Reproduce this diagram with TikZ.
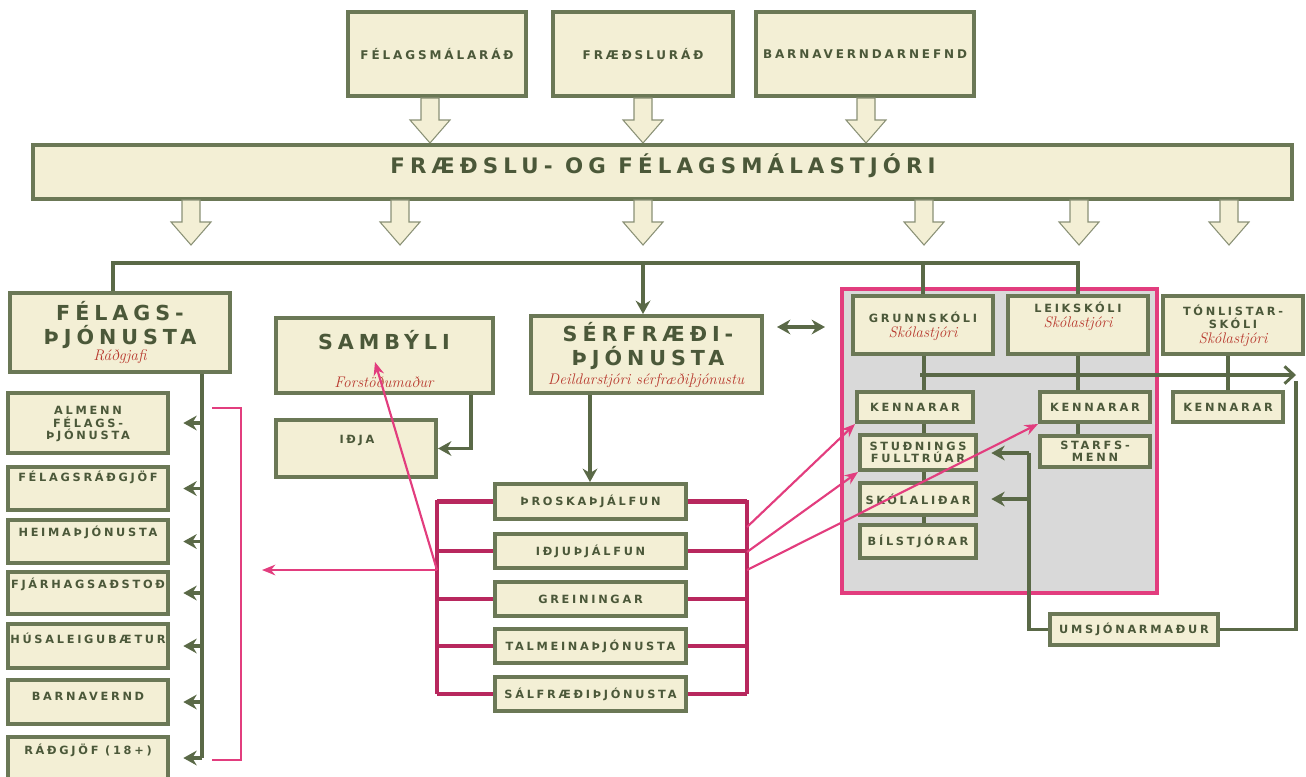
\documentclass[tikz,border=0pt]{standalone}
\usepackage{fontspec}
\newfontfamily\hfs[LetterSpace=24]{DejaVu Sans}
\usetikzlibrary{arrows.meta,fit,shadows}
\definecolor{cream}{HTML}{F3EFD5}
\definecolor{boxc}{HTML}{6B7856}
\definecolor{txt}{HTML}{4B5839}
\definecolor{lineC}{HTML}{5A6947}
\definecolor{redt}{HTML}{B8392E}
\definecolor{pinkA}{HTML}{E23D7E}
\definecolor{crim}{HTML}{B8285E}
\definecolor{greyR}{HTML}{D9D9D9}
\definecolor{harrow}{HTML}{8A9176}
\pgfdeclarelayer{back}\pgfdeclarelayer{bg}\pgfsetlayers{back,bg,main}
\tikzset{
  bx/.style={draw=boxc, line width=3pt, fill=cream, inner sep=0pt,
    drop shadow={shadow xshift=1.2pt, shadow yshift=-1.2pt, opacity=0.25}},
  ts/.style={font=\hfs\bfseries\fontsize{8.5}{9.4}\selectfont, text=txt, align=center, inner sep=0pt},
  tm/.style={font=\hfs\bfseries\fontsize{9}{10.5}\selectfont, text=txt, align=center, inner sep=0pt},
  tl/.style={font=\hfs\bfseries\fontsize{15.5}{18}\selectfont, text=txt, align=center, inner sep=0pt},
  txl/.style={font=\hfs\bfseries\fontsize{16}{18}\selectfont, text=txt, align=center, inner sep=0pt},
  rd/.style={font=\itshape\fontsize{11.5}{12}\selectfont, text=redt, inner sep=0pt},
  conn/.style={draw=lineC, line width=2.8pt},
  arr/.style={-{Stealth[length=10pt,width=11pt]}},
  crl/.style={draw=crim, line width=2.4pt},
  pinkarr/.style={draw=pinkA, line width=1.6pt, -{Stealth[length=10pt,width=8pt]}},
  hollow/.pic={\draw[draw=harrow, fill=cream, line width=0.8pt] (-9,0) -- (9,0) -- (9,22) -- (20,22) -- (0,45) -- (-20,22) -- (-9,22) -- cycle;}
}
\begin{document}
\begin{tikzpicture}[x=0.75pt,y=-0.75pt]
\useasboundingbox (0,0) rectangle (1306,776);
\clip (0,0) rectangle (1306,776);

% ---------- top ----------
\node[bx, fit={(348,12)(526,96)}] (fmr) {};
\node[tm] (fmr-t) at (fmr) {FÉLAGSMÁLARÁÐ};
\node[bx, fit={(553,12)(733,96)}] (frr) {};
\node[tm] (frr-t) at (frr) {FRÆÐSLURÁÐ};
\node[bx, fit={(756,12)(974,96)}] (bvn) {};
\node[tm] (bvn-t) at (bvn) {BARNAVERNDARNEFND};

\pic at (430,98) {hollow};
\pic at (643,98) {hollow};
\pic at (866,98) {hollow};

\node[bx, fit={(33,145)(1292,199)}] (stj) {};
\node[txl] (stj-t) at (663,166) {FRÆÐSLU- OG FÉLAGSMÁLASTJÓRI};

\foreach \xx in {191,400,643,924,1079,1229} \pic at (\xx,200) {hollow};

% ---------- grey school region ----------
\begin{pgfonlayer}{back}
\node[fill=greyR, draw=pinkA, line width=2.6pt, inner sep=0pt, fit={(842,289)(1157,593)}] (skolar) {};
\end{pgfonlayer}

% ---------- Félagsþjónusta ----------
\node[bx, fit={(10,293)(230,372)}] (fel) {};
\node[tl] (fel-t) at (120,325) {FÉLAGS-\\ÞJÓNUSTA};
\node[rd] (fel-r) at (120,357) {Ráðgjafi};

\node[bx, fit={(8,393)(168,453)}] (f1) {};
\node[ts] (f1-t) at (88,424) {ALMENN\\FÉLAGS-\\ÞJÓNUSTA};
\node[bx, fit={(8,467)(168,510)}] (f2) {};
\node[ts] (f2-t) at (88,477) {FÉLAGSRÁÐGJÖF};
\node[bx, fit={(8,520)(168,563)}] (f3) {};
\node[ts] (f3-t) at (88,532) {HEIMAÞJÓNUSTA};
\node[bx, fit={(8,572)(168,614)}] (f4) {};
\node[ts] (f4-t) at (88,584) {FJÁRHAGSAÐSTOÐ};
\node[bx, fit={(8,624)(168,668)}] (f5) {};
\node[ts] (f5-t) at (88,638) {HÚSALEIGUBÆTUR};
\node[bx, fit={(8,680)(168,724)}] (f6) {};
\node[ts] (f6-t) at (88,696) {BARNAVERND};
\node[bx, fit={(8,737)(168,779)}] (f7) {};
\node[ts] (f7-t) at (88,750) {RÁÐGJÖF (18+)};

% ---------- Sambýli / Iðja ----------
\node[bx, fit={(276,318)(493,393)}] (samb) {};
\node[tl] (samb-t) at (384,340) {SAMBÝLI};
\node[rd] (samb-r) at (384,382) {Forstöðumaður};
\node[bx, fit={(276,420)(436,477)}] (idja) {};
\node[ts] (idja-t) at (357,440) {IÐJA};

% ---------- Sérfræðiþjónusta ----------
\node[bx, fit={(531,316)(762,393)}] (serf) {};
\node[tl] (serf-t) at (648,346) {SÉRFRÆÐI-\\ÞJÓNUSTA};
\node[rd] (serf-r) at (646,381) {Deildarstjóri sérfræðiþjónustu};

\node[bx, fit={(495,484)(686,519)}] (m1) {};
\node[ts] (m1-t) at (m1) {ÞROSKAÞJÁLFUN};
\node[bx, fit={(495,534)(686,568)}] (m2) {};
\node[ts] (m2-t) at (m2) {IÐJUÞJÁLFUN};
\node[bx, fit={(495,582)(686,616)}] (m3) {};
\node[ts] (m3-t) at (m3) {GREININGAR};
\node[bx, fit={(495,629)(686,663)}] (m4) {};
\node[ts] (m4-t) at (m4) {TALMEINAÞJÓNUSTA};
\node[bx, fit={(495,677)(686,711)}] (m5) {};
\node[ts] (m5-t) at (m5) {SÁLFRÆÐIÞJÓNUSTA};

% ---------- schools ----------
\node[bx, fit={(853,296)(993,354)}] (grunn) {};
\node[ts] (grunn-t) at (923,317) {GRUNNSKÓLI};
\node[rd] (grunn-r) at (923,334) {Skólastjóri};
\node[bx, fit={(1008,296)(1148,354)}] (leik) {};
\node[ts] (leik-t) at (1078,307) {LEIKSKÓLI};
\node[rd] (leik-r) at (1078,324) {Skólastjóri};
\node[bx, fit={(1163,296)(1303,354)}] (ton) {};
\node[ts] (ton-t) at (1233,317) {TÓNLISTAR-\\SKÓLI};
\node[rd] (ton-r) at (1233,340) {Skólastjóri};

\node[bx, fit={(857,392)(973,422)}] (gk) {};
\node[ts] (gk-t) at (gk) {KENNARAR};
\node[bx, fit={(860,435)(976,470)}] (stud) {};
\node[ts] (stud-t) at (stud) {STUÐNINGS\\FULLTRÚAR};
\node[bx, fit={(860,483)(976,515)}] (skol) {};
\node[ts] (skol-t) at (skol) {SKÓLALIÐAR};
\node[bx, fit={(860,525)(976,558)}] (bil) {};
\node[ts] (bil-t) at (bil) {BÍLSTJÓRAR};

\node[bx, fit={(1040,392)(1150,422)}] (lk) {};
\node[ts] (lk-t) at (lk) {KENNARAR};
\node[bx, fit={(1040,436)(1150,467)}] (starf) {};
\node[ts] (starf-t) at (starf) {STARFS-\\MENN};

\node[bx, fit={(1173,392)(1283,422)}] (tk) {};
\node[ts] (tk-t) at (tk) {KENNARAR};

\node[bx, fit={(1050,614)(1218,645)}] (ums) {};
\node[ts] (ums-t) at (ums) {UMSJÓNARMAÐUR};

% ---------- coordinates ----------
\coordinate (b1) at (113,263);
\coordinate (b4) at (1078,263);
\coordinate (fv) at (202,372);
\coordinate (lb) at (437,500);
\coordinate (rb) at (747,500);
\coordinate (pk) at (437,570);
\coordinate (pkL) at (262,570);
\coordinate (pkS) at (375,362);
\coordinate (da1) at (777,327);
\coordinate (da2) at (825,327);
\coordinate (h1) at (920,375);
\coordinate (h2) at (1296,375);
\coordinate (uv) at (1029,453);
\coordinate (ur) at (1296,381);

% ---------- connectors (behind boxes) ----------
\begin{pgfonlayer}{bg}
\draw[conn] (fel.north -| b1) |- (b4) -- (leik.north);
\draw[conn] (b1 -| grunn.north) -- (grunn.north);
\draw[conn, arr] (b1 -| 643,0) -- (serf.north -| 643,0);
\draw[conn] (fv) -- (fv |- f7.east);
\foreach \n in {f1,f2,f3,f4,f5,f6,f7}
  \draw[conn, arr, shorten >=10pt] (fv |- \n.east) -- (\n.east);
\draw[conn, arr] (samb.south -| 471,0) |- (idja.east);
\draw[conn, arr] (serf.south -| 590,0) -- (m1.north -| 590,0);
\draw[conn, {Stealth[length=10pt,width=11pt]}-{Stealth[length=10pt,width=11pt]}] (da1) -- (da2);
% crimson buses
\draw[crl] (lb) -- (lb |- m5.west);
\draw[crl] (rb) -- (rb |- m5.west);
\foreach \n in {m1,m2,m3,m4,m5} {
  \draw[crl, line width=3.2pt] (\n.west) -- (\n.west -| lb);
  \draw[crl, line width=3.2pt] (\n.east) -- (\n.east -| rb);
}
% schools
\draw[conn] (grunn.south -| 924,0) -- (bil.north -| 924,0);
\draw[conn] (leik.south) -- (leik.south |- starf.north);
\draw[conn] (tk.north |- ton.south) -- (tk.north);
\draw[conn, -{Straight Barb[length=7pt,width=13pt,line width=2.2pt]}] (h1) -- (h2);
\draw[conn] (ums.west) -| (uv);
\draw[conn, arr, shorten >=10pt] (uv) -- (uv -| stud.east);
\draw[conn, arr, shorten >=10pt] (uv |- skol.east) -- (skol.east);
\draw[conn] (ums.east) -| (ur);
\end{pgfonlayer}

% ---------- pink bracket and arrows ----------
\draw[pinkA, line width=1.8pt] (212,408) -- (241,408) -- (241,760) -- (212,760);
\draw[pinkarr] (pk) -- (pkL);
\draw[pinkarr] (pk) -- (pkS);
\draw[pinkarr] (rb |- 0,527) -- (gk.south west);
\draw[pinkarr] (rb |- 0,552) -- (stud.south west);
\draw[pinkarr] (rb |- 0,570) -- (lk.south west);
\end{tikzpicture}
\end{document}
